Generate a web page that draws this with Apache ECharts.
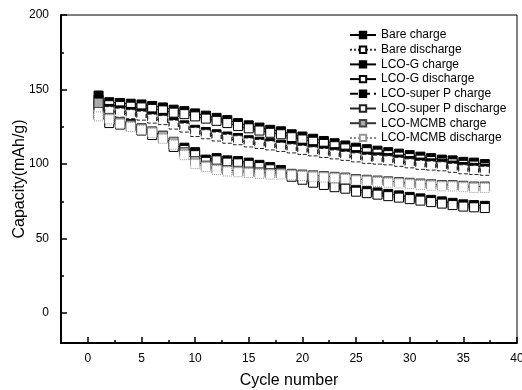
<!DOCTYPE html>
<html>
<head>
<meta charset="utf-8">
<script src="https://cdn.jsdelivr.net/npm/echarts@6/dist/echarts.min.js"></script>
<style>
  html, body { margin: 0; padding: 0; background: #fff; }
  #main { width: 522px; height: 390px; }
</style>
</head>
<body>
<div id="main"></div>
<script>
// 循环次数
var cycles = [];
for (var i = 1; i <= 37; i++) cycles.push(i);

// 数据
var bareCharge = [146, 129, 128, 127, 124, 121, 119, 113, 111, 108, 103, 104, 102.5, 102, 101, 99.5, 98, 96, 93, 91, 89, 87.5, 86, 85, 83, 82, 81, 80, 79, 78, 77, 76, 75, 74, 73, 72.5, 72];
var bareDischarge = [133, 127.5, 126.5, 125.5, 122.5, 119.5, 117.5, 111.5, 109.5, 106, 101.5, 102.5, 101, 100.5, 99.5, 98, 96.5, 94.5, 91.5, 89.5, 87.5, 86, 84.5, 83.5, 81.5, 80.5, 79.5, 78.5, 77.5, 76.5, 75.5, 74.5, 73.5, 72.5, 71.5, 71, 70.5];
var gCharge = [143, 141.5, 141, 140.5, 140, 139, 138, 136.5, 135.5, 134, 132.5, 131, 129.5, 127.5, 126, 124.5, 123, 122, 120, 118.5, 117, 115.5, 114, 112.5, 111, 110, 109, 108, 107, 106, 105, 104, 103, 102.5, 101.5, 101, 100];
var gDischarge = [140, 139.5, 139, 138.5, 138, 137, 136, 134.5, 133.5, 132, 130.5, 129, 127.5, 125.5, 124, 122.5, 121, 120, 118, 116.5, 115, 113.5, 112, 110.5, 109, 108, 107, 106, 105, 104, 103, 102, 101, 100.5, 99.5, 99, 98];
var spCharge = [139, 137, 136, 135, 134, 132, 131, 128, 126, 123, 121.5, 120, 118.5, 117.5, 116, 115, 114, 113, 112, 111, 110, 109, 108, 107, 106, 105, 104.5, 104, 103, 102, 101, 100.5, 100, 99, 98, 97.5, 97];
var spDischarge = [137, 135.5, 134.5, 133.5, 132.5, 130.5, 129.5, 126.5, 124.5, 121.5, 120, 118.5, 117, 116, 114.5, 113.5, 112.5, 111.5, 110.5, 109.5, 108.5, 107.5, 106.5, 105.5, 104.5, 103.5, 103, 102.5, 101.5, 100.5, 99.5, 99, 98.5, 97.5, 96.5, 96, 95.5];
var mcmbCharge = [141, 131, 128, 126, 124, 122, 119, 115, 108, 102, 99, 97, 96, 95.5, 95, 94.5, 94, 94, 93.5, 93, 92.5, 92, 91.5, 91, 90, 89.5, 89, 88.5, 88, 87.5, 87, 86.5, 86, 86, 85.5, 85, 85];
var mcmbDischarge = [132, 130, 127, 125, 123, 121, 117, 113, 106, 100, 98, 96, 95, 94.5, 94, 93.5, 93, 93, 92.5, 92, 91.5, 91, 90.5, 90, 89, 88.5, 88, 87.5, 87, 86.5, 86, 85.5, 85, 85, 84.5, 84, 84];

var names = ['Bare charge', 'Bare discharge', 'LCO-G charge', 'LCO-G discharge',
     'LCO-super P charge', 'LCO-super P discharge', 'LCO-MCMB charge', 'LCO-MCMB discharge'];
var values = [bareCharge, bareDischarge, gCharge, gDischarge, spCharge, spDischarge, mcmbCharge, mcmbDischarge];

// 刻度
var xMajor = [0, 5, 10, 15, 20, 25, 30, 35, 40];
var xMinor = [2.5, 7.5, 12.5, 17.5, 22.5, 27.5, 32.5, 37.5];
var yMajor = [0, 50, 100, 150, 200];
var yMinor = [25, 75, 125, 175];

// 线型/标记样式
var styles = [
     { fill: '#000', border: '#000', btype: 'solid', line: '#000', ltype: 'solid' },
     { fill: '#fff', border: '#000', btype: 'solid', line: '#333', ltype: 'dotted' },
     { fill: '#000', border: '#000', btype: 'solid', line: '#000', ltype: 'solid' },
     { fill: '#fff', border: '#000', btype: 'solid', line: '#000', ltype: 'solid' },
     { fill: '#000', border: '#000', btype: 'solid', line: '#000', ltype: 'dashed' },
     { fill: '#fff', border: '#222', btype: 'dashed', line: '#222', ltype: 'solid' },
     { fill: '#aaa', border: '#444', btype: 'solid', line: '#333', ltype: 'solid' },
     { fill: '#fff', border: '#999', btype: 'dotted', line: '#888', ltype: 'dotted' }
];

var series = [];
for (var s = 0; s < names.length; s++) {
     var d = [];
     for (var k = 0; k < cycles.length; k++) {
          d.push([cycles[k], values[s][k]]);
     }
     series.push({
          name: names[s],
          type: 'line',
          xAxisIndex: 0,
          yAxisIndex: 0,
          data: d,
          symbol: 'rect',
          symbolSize: 9,
          showAllSymbol: true,
          animation: false,
          lineStyle: { color: styles[s].line, width: 1, type: styles[s].ltype },
          itemStyle: {
               color: styles[s].fill,
               borderColor: styles[s].border,
               borderWidth: 1,
               borderType: styles[s].btype
          }
     });
}

var font = 'Arial, "Liberation Sans", sans-serif';
var chart = echarts.init(document.getElementById('main'));
chart.setOption({
     backgroundColor: '#fff',
     animation: false,
     grid: {
          left: 61, right: 5, top: 15, bottom: 47,
          outerBoundsMode: 'none',
          containLabel: false,
          show: true, borderColor: '#000', borderWidth: 1
     },
     legend: {
          orient: 'vertical',
          left: 344,
          top: 24,
          itemWidth: 26,
          itemHeight: 8,
          itemGap: 2.7,
          textStyle: { fontFamily: font, fontSize: 12, color: '#000', lineHeight: 12 },
          data: names
     },
     xAxis: [{
          type: 'value',
          min: -2.5, max: 40,
          name: 'Cycle number',
          nameLocation: 'middle',
          nameGap: 30,
          nameMoveOverlap: false,
          nameTextStyle: { fontFamily: font, fontSize: 16, color: '#000' },
          axisLine: { show: true, onZero: false, lineStyle: { color: '#000', width: 2 } },
          axisTick: { show: true, inside: true, length: 6, customValues: xMajor, lineStyle: { color: '#000', width: 1.5 } },
          axisLabel: { customValues: xMajor, fontFamily: font, fontSize: 12, color: '#000', margin: 10 },
          splitLine: { show: false }
     }, {
          type: 'value',
          min: -2.5, max: 40,
          position: 'bottom',
          axisLine: { show: false, onZero: false },
          axisTick: { show: true, inside: true, length: 3, customValues: xMinor, lineStyle: { color: '#000', width: 1.5 } },
          axisLabel: { show: false },
          splitLine: { show: false }
     }],
     yAxis: [{
          type: 'value',
          min: -20, max: 200,
          name: 'Capacity(mAh/g)',
          nameLocation: 'middle',
          nameGap: 33,
          nameMoveOverlap: false,
          nameTextStyle: { fontFamily: font, fontSize: 16, color: '#000' },
          axisLine: { show: true, onZero: false, lineStyle: { color: '#000', width: 2 } },
          axisTick: { show: true, inside: true, length: 6, customValues: yMajor, lineStyle: { color: '#000', width: 1.5 } },
          axisLabel: { customValues: yMajor, fontFamily: font, fontSize: 12, color: '#000', margin: 12 },
          splitLine: { show: false }
     }, {
          type: 'value',
          min: -20, max: 200,
          position: 'left',
          axisLine: { show: false, onZero: false },
          axisTick: { show: true, inside: true, length: 3, customValues: yMinor, lineStyle: { color: '#000', width: 1.5 } },
          axisLabel: { show: false },
          splitLine: { show: false }
     }],
     series: series
});
</script>
</body>
</html>
